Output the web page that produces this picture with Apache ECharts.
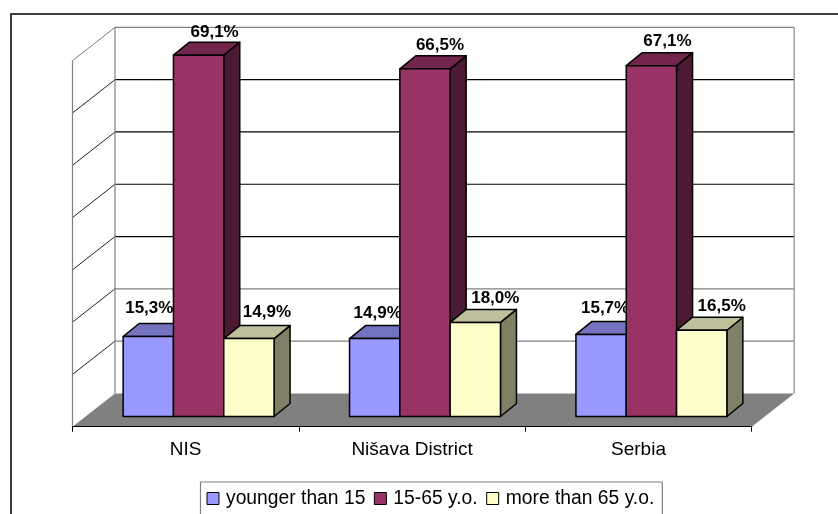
<!DOCTYPE html>
<html>
<head>
<meta charset="utf-8">
<style>html,body{margin:0;padding:0;background:#fff;overflow:hidden}#c{width:838px;height:514px}</style>
<script src="https://cdn.jsdelivr.net/npm/echarts@6/dist/echarts.min.js"></script>
</head>
<body>
<div id="c"></div>
<script>
const categories = ['NIS', 'Nišava District', 'Serbia'];
const seriesNames = ['younger than 15', '15-65 y.o.', 'more than 65 y.o.'];
const younger = [15.3, 14.9, 15.7];
const working = [69.1, 66.5, 67.1];
const older = [14.9, 18.0, 16.5];
const yTicks = [0, 10, 20, 30, 40, 50, 60, 70];

// Oblique projection of the 3D box: floor depth, bar depth, bar placement inside that depth.
const WALL_DX = 42.5, WALL_DY = 33.3;
const BAR_DX = 16, BAR_DY = 13;
const BAR_FRONT_DX = 12.9, BAR_LIFT = 10.2;
const BAR_SHARE = 1 / 4.5;

const faces = [
  { front: '#9999FF', top: '#7373BF', side: '#4D4D80' },
  { front: '#993366', top: '#73264D', side: '#4D1A33' },
  { front: '#FFFFCC', top: '#BFBF99', side: '#808066' }
];
// Hand placement of the value labels, per series and category.
const labelShift = [
  [[-15, -28], [-13, -25], [-12, -26]],
  [[0, -23], [-1, -23], [0, -24]],
  [[2, -26], [4, -24], [4, -24]]
];
const labelFont = 'bold 17px "Liberation Sans", Arial, sans-serif';
const ink = '#000';
const wallGrey = '#808080';

const fmt = v => v.toFixed(1).replace('.', ',') + '%';

function renderBox(params, api) {
  const g = params.coordSys;
  const y = v => api.coord([0, v])[1];
  const left = g.x, right = g.x + g.width, base = y(0);
  const line = (x1, y1, x2, y2, stroke, w) => ({
    type: 'line',
    shape: { x1, y1, x2, y2 },
    style: { stroke, lineWidth: w }
  });
  const children = [{
    type: 'polygon',
    shape: { points: [[left, base], [left + WALL_DX, base - WALL_DY], [right + WALL_DX, base - WALL_DY], [right, base]] },
    style: { fill: '#808080' }
  }];
  yTicks.forEach(t => {
    const py = y(t);
    const backY = py - WALL_DY;
    const strong = t >= 30 && t <= 60;
    if (t > 0) {
      children.push(line(left + WALL_DX, backY, right + WALL_DX, backY, strong ? ink : wallGrey, 1.2));
      children.push(line(left, py, left + WALL_DX, backY, t === 70 ? wallGrey : '#222', 1));
    }
  });
  const top = y(70);
  children.push(line(left, top, left, base, wallGrey, 1.2));
  children.push(line(left + WALL_DX, top - WALL_DY, left + WALL_DX, base - WALL_DY, wallGrey, 1.2));
  children.push(line(right + WALL_DX, top - WALL_DY, right + WALL_DX, base - WALL_DY, '#9a9a9a', 1.4));
  return { type: 'group', children };
}

function renderBar(params, api) {
  const s = params.seriesIndex - 1;
  const cat = api.value(0), val = api.value(1);
  const size = api.size([1, 0])[0];
  const w = size * BAR_SHARE;
  const c = faces[s];
  const topPt = api.coord([cat, val]);
  const basePt = api.coord([cat, 0]);
  const x0 = topPt[0] + BAR_FRONT_DX + (s - 1.5) * w;
  const x1 = x0 + w;
  const yT = topPt[1] - BAR_LIFT;
  const yB = basePt[1] - BAR_LIFT;
  const edge = { stroke: ink, lineWidth: 1.5, lineJoin: 'round' };
  const shift = labelShift[s][params.dataIndexInside];
  return {
    type: 'group',
    children: [
      { type: 'polygon', shape: { points: [[x1, yT], [x1 + BAR_DX, yT - BAR_DY], [x1 + BAR_DX, yB - BAR_DY], [x1, yB]] },
        style: Object.assign({ fill: c.side }, edge) },
      { type: 'polygon', shape: { points: [[x0, yT], [x0 + BAR_DX, yT - BAR_DY], [x1 + BAR_DX, yT - BAR_DY], [x1, yT]] },
        style: Object.assign({ fill: c.top }, edge) },
      { type: 'rect', shape: { x: x0, y: yT, width: w, height: yB - yT },
        style: Object.assign({ fill: c.front }, edge) },
      { type: 'text', z2: 100,
        style: { text: fmt(val), x: x0 + w / 2 + BAR_DX + shift[0], y: yT + shift[1],
                 align: 'center', verticalAlign: 'middle', font: labelFont, fill: ink } }
    ]
  };
}

const barSeries = [younger, working, older].map((vals, i) => ({
  name: seriesNames[i],
  type: 'custom',
  renderItem: renderBar,
  encode: { x: 0, y: 1 },
  itemStyle: { color: faces[i].front },
  data: vals.map((v, k) => [k, v]),
  z: 10 + i,
  silent: true
}));

const chart = echarts.init(document.getElementById('c'), null, { renderer: 'canvas' });
chart.setOption({
  animation: false,
  backgroundColor: '#fff',
  grid: { left: 72.5, top: 60.7, width: 679.2, height: 366 },
  xAxis: {
    type: 'category',
    data: categories,
    axisLine: { lineStyle: { color: ink, width: 1.2 } },
    axisTick: { show: true, length: 5, alignWithLabel: false, lineStyle: { color: ink, width: 1 } },
    axisLabel: { color: ink, fontFamily: '"Liberation Sans", Arial, sans-serif', fontSize: 19, margin: 14 },
    z: 5
  },
  yAxis: {
    type: 'value', min: 0, max: 70, interval: 10,
    axisLine: { show: false }, axisTick: { show: false },
    axisLabel: { show: false }, splitLine: { show: false }
  },
  legend: {
    data: seriesNames,
    left: 200.5, top: 482,
    orient: 'horizontal',
    backgroundColor: '#fff',
    borderColor: '#808080', borderWidth: 1.2,
    padding: [7, 8, 20, 6],
    itemWidth: 12, itemHeight: 12, itemGap: 8.5,
    icon: 'rect',
    itemStyle: { borderColor: ink, borderWidth: 1 },
    textStyle: { color: ink, fontFamily: '"Liberation Sans", Arial, sans-serif', fontSize: 19.3, padding: [0, 0, 0, 2] }
  },
  graphic: [{
    type: 'polyline', silent: true,
    shape: { points: [[11, 540], [11, 14], [860, 14]] },
    style: { stroke: ink, lineWidth: 1.5, fill: null }
  }],
  series: [{
    type: 'custom',
    renderItem: renderBox,
    encode: { x: 0, y: 1 },
    data: [[0, 0]],
    z: 1,
    silent: true
  }].concat(barSeries)
});
</script>
</body>
</html>
